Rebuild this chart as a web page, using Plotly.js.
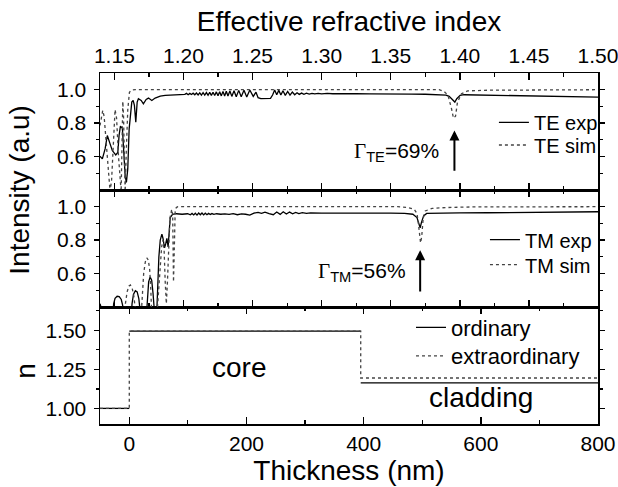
<!DOCTYPE html>
<html>
<head>
<meta charset="utf-8">
<script src="https://cdn.plot.ly/plotly-3.0.1.min.js"></script>
<style>html,body{margin:0;padding:0;background:#fff;}#chart{width:618px;height:487px;}</style>
</head>
<body>
<div id="chart"></div>
<script>
// ---- TE panel (x: effective refractive index) ----
const teExpX = [1.1396,1.1413,1.1433,1.1449,1.1469,1.1485,1.1510,1.1525,1.1534,1.1544,1.1558,1.1568,1.1578,1.1587,1.1597,1.1607,1.1616,1.1626,1.1636,1.1645,1.1655,1.1665,1.1674,1.1694,1.1710,1.1730,1.1747,1.1771,1.1795,1.1832,1.1868,1.1940,1.1977,
1.2010,1.2022,1.2034,1.2046,1.2058,1.2070,1.2082,1.2094,1.2106,1.2118,1.2130,1.2142,1.2154,1.2166,1.2178,1.2190,1.2202,1.2214,1.2226,1.2238,1.2250,1.2262,1.2274,1.2286,1.2298,1.2310,1.2322,1.2336,1.2350,1.2366,1.2382,1.2400,1.2418,1.2438,1.2458,1.2480,1.2505,1.2525,1.2540,1.2560,1.2600,1.2630,1.2645,1.2660,1.2675,1.2690,1.2705,1.2720,1.2737,1.2754,1.2771,1.2788,1.2805,1.2822,1.2838,1.2855,1.2872,1.2890,1.2910,1.2930,1.2950,1.2975,1.3000,1.3040,1.3080,1.3150,1.3250,1.3350,1.3450,1.3550,1.3650,1.3750,1.3850,1.3900,1.3923,1.3947,1.3964,1.3978,1.4002,1.4031,1.4150,1.4273,1.4400,1.4514,1.4630,1.4756,1.4880,1.5000];
const teExpY = [0.602,0.586,0.646,0.726,0.676,0.636,0.610,0.625,0.726,0.782,0.770,0.646,0.486,0.446,0.526,0.766,0.866,0.926,0.936,0.906,0.806,0.926,0.946,0.936,0.916,0.942,0.950,0.936,0.950,0.962,0.966,0.970,0.974,
0.972,0.978,0.970,0.978,0.971,0.979,0.970,0.980,0.969,0.981,0.968,0.982,0.968,0.983,0.967,0.984,0.966,0.985,0.965,0.987,0.964,0.988,0.963,0.990,0.962,0.991,0.962,0.992,0.960,0.994,0.958,0.996,0.958,0.997,0.957,0.998,0.960,0.985,0.952,0.947,0.946,0.948,0.968,0.998,0.970,0.996,0.968,0.994,0.966,0.990,0.968,0.986,0.970,0.982,0.972,0.980,0.973,0.979,0.974,0.978,0.975,0.978,0.975,0.978,0.976,0.977,0.976,0.975,0.976,0.975,0.974,0.973,0.972,0.968,0.960,0.940,0.926,0.946,0.966,0.970,0.968,0.966,0.965,0.964,0.962,0.960,0.958,0.956];
const teSimX = [1.1396,1.1408,1.1416,1.1426,1.1440,1.1455,1.1469,1.1480,1.1492,1.1505,1.1516,1.1530,1.1549,1.1553,1.1557,1.1561,1.1566,1.1572,1.1578,1.1587,1.1597,1.1609,1.1625,1.1650,1.3850,1.3886,1.3915,1.3940,1.3954,1.3969,1.3983,1.4012,1.4056,1.4200,1.5000];
const teSimY = [0.786,0.860,0.876,0.840,0.700,0.500,0.390,0.460,0.700,0.881,0.830,0.600,0.390,0.600,0.850,0.930,0.850,0.600,0.390,0.650,0.880,0.985,0.998,1.000,1.000,0.990,0.966,0.886,0.830,0.842,0.926,0.976,0.993,0.997,1.000];

// ---- TM panel ----
const tmExpX = [1.1396,1.1405,1.1410,1.1488,1.1495,1.1505,1.1520,1.1535,1.1550,1.1560,1.1566,1.1622,1.1628,1.1638,1.1652,1.1665,1.1677,1.1686,1.1690,1.1732,1.1738,1.1748,1.1759,1.1770,1.1780,1.1788,1.1792,1.1806,1.1812,1.1822,1.1832,1.1844,1.1852,1.1863,1.1872,1.1880,1.1889,1.1897,1.1904,1.1921,1.1950,1.1990,
1.2030,1.2050,1.2062,1.2074,1.2086,1.2098,1.2110,1.2122,1.2134,1.2146,1.2158,1.2170,1.2182,1.2194,1.2206,1.2220,1.2240,1.2270,1.2300,1.2330,1.2360,1.2390,1.2420,1.2450,1.2480,1.2510,1.2540,1.2565,1.2590,1.2620,1.2650,1.2675,1.2700,1.2722,1.2745,1.2768,1.2790,1.2812,1.2835,1.2860,1.2890,1.2920,1.2960,1.3000,1.3100,1.3200,1.3300,1.3400,1.3500,1.3600,1.3660,1.3690,1.3705,1.3713,1.3722,1.3738,1.3760,1.3850,1.4000,1.4200,1.4400,1.4600,1.4800,1.5000];
const tmExpY = [0.420,0.395,0.350,0.350,0.420,0.452,0.464,0.462,0.445,0.410,0.350,0.350,0.420,0.475,0.498,0.490,0.450,0.400,0.350,0.350,0.450,0.550,0.580,0.560,0.480,0.400,0.350,0.350,0.500,0.700,0.800,0.836,0.810,0.754,0.780,0.810,0.760,0.850,0.934,0.954,0.958,0.955,
0.958,0.952,0.960,0.951,0.961,0.950,0.962,0.952,0.962,0.951,0.961,0.952,0.960,0.953,0.959,0.954,0.958,0.955,0.957,0.954,0.958,0.952,0.957,0.955,0.950,0.962,0.966,0.960,0.967,0.958,0.952,0.968,0.954,0.970,0.956,0.968,0.958,0.966,0.959,0.964,0.960,0.963,0.961,0.962,0.962,0.963,0.962,0.961,0.962,0.960,0.955,0.935,0.900,0.874,0.905,0.945,0.960,0.962,0.963,0.964,0.965,0.966,0.968,0.970];
const tmSimX = [1.1396,1.1572,1.1580,1.1592,1.1605,1.1616,1.1628,1.1640,1.1650,1.1655,1.1694,1.1700,1.1712,1.1724,1.1735,1.1746,1.1756,1.1764,1.1770,1.1808,1.1820,1.1832,1.1842,1.1852,1.1860,1.1868,1.1876,1.1884,1.1892,1.1902,1.1915,1.1922,1.1928,1.1934,1.1940,1.1948,1.1960,1.3550,1.3620,1.3670,1.3690,1.3700,1.3710,1.3716,1.3724,1.3735,1.3750,1.3800,1.3900,1.4100,1.5000];
const tmSimY = [0.350,0.350,0.420,0.490,0.525,0.532,0.515,0.470,0.400,0.350,0.350,0.450,0.600,0.670,0.694,0.680,0.620,0.500,0.350,0.350,0.500,0.650,0.760,0.800,0.740,0.550,0.420,0.550,0.780,0.930,0.985,0.950,0.550,0.800,0.970,0.995,1.000,1.000,0.995,0.985,0.960,0.900,0.800,0.784,0.820,0.930,0.975,0.990,0.995,0.999,1.000];

// ---- refractive index profile (x: thickness, nm) ----
const ordX = [-50,0,null,0,395,null,395,800];
const ordY = [1.00,1.00,null,1.495,1.495,null,1.163,1.163];
const extX = [-50,0,0,395,395,800];
const extY = [1.00,1.00,1.495,1.495,1.195,1.195];

// ---- tick labels ----
const effTicks = [1.15,1.20,1.25,1.30,1.35,1.40,1.45,1.50];
const intTicks = [0.6,0.8,1.0];
const intTickText = ['0.6','0.8','1.0'];
const nTicks = [1.00,1.25,1.50];
const nTickText = ['1.00','1.25','1.50'];
const thickTicks = [0,200,400,600,800];

const FONT = 'Liberation Sans, Arial, sans-serif';
const solid = {color:'#000', width:1.3};
const dotted = {color:'#444', width:1.3, dash:'dot'};

const traces = [
  {x:teExpX, y:teExpY, xaxis:'x2', yaxis:'y', mode:'lines', name:'TE exp', line:solid, legend:'legend'},
  {x:teSimX, y:teSimY, xaxis:'x2', yaxis:'y', mode:'lines', name:'TE sim', line:dotted, legend:'legend2'},
  {x:tmExpX, y:tmExpY, xaxis:'x3', yaxis:'y2', mode:'lines', name:'TM exp', line:solid, legend:'legend3'},
  {x:tmSimX, y:tmSimY, xaxis:'x3', yaxis:'y2', mode:'lines', name:'TM sim', line:dotted, legend:'legend4'},
  {x:ordX, y:ordY, xaxis:'x', yaxis:'y3', mode:'lines', name:'ordinary', line:solid, legend:'legend5', connectgaps:false},
  {x:extX, y:extY, xaxis:'x', yaxis:'y3', mode:'lines', name:'extraordinary', line:dotted, legend:'legend6'}
];

const axBase = {showline:true, linecolor:'#000', linewidth:1.5, showgrid:false, zeroline:false,
  tickcolor:'#000', tickwidth:1.5, mirror:'ticks', ticklabeloverflow:'allow', tickfont:{family:FONT, size:21, color:'#000'}};

const effAxis = Object.assign({}, axBase, {range:[1.1396,1.5], tickvals:effTicks, tickformat:'.2f',
  ticks:'inside', ticklen:7, minor:{tickvals:[1.175,1.225,1.275,1.325,1.375,1.425,1.475], ticks:'inside', ticklen:4, tickwidth:1.2, tickcolor:'#000'}});

function leg(x, y, size) {
  return {bgcolor:'rgba(0,0,0,0)', borderwidth:0, xanchor:'left', yanchor:'middle', itemwidth:30,
    x:x, y:y, font:{family:FONT, size:size, color:'#000'}};
}

const TITLE = {family:FONT, size:28, color:'#000'};

const layout = {
  width:618, height:487,
  margin:{l:100, r:20, t:73, b:63},
  paper_bgcolor:'#fff', plot_bgcolor:'#fff',
  font:{family:FONT, color:'#000'},
  showlegend:true,
  xaxis: Object.assign({}, axBase, {domain:[0,1], anchor:'y3', range:[-50,800], tickvals:thickTicks,
    ticks:'inside', ticklen:7, ticklabelstandoff:0,
    minor:{tickvals:[100,300,500,700], ticks:'inside', ticklen:4, tickwidth:1.2, tickcolor:'#000'},
    title:{text:'Thickness (nm)', font:TITLE, standoff:2}}),
  xaxis2: Object.assign({}, effAxis, {domain:[0,1], anchor:'y', side:'top', ticklabelstandoff:0,
    title:{text:'Effective refractive index', font:TITLE, standoff:4}}),
  xaxis3: Object.assign({}, effAxis, {domain:[0,1], anchor:'y2', matches:'x2', showticklabels:false}),
  yaxis: Object.assign({}, axBase, {domain:[2/3,1], anchor:'x2', range:[0.4,1.1], tickvals:intTicks, ticktext:intTickText,
    ticks:'outside', ticklen:5, ticklabelstandoff:3,
    minor:{tickvals:[0.5,0.7,0.9], ticks:'outside', ticklen:3, tickwidth:1.2, tickcolor:'#000'}}),
  yaxis2: Object.assign({}, axBase, {domain:[1/3,2/3], anchor:'x3', range:[0.4,1.1], tickvals:intTicks, ticktext:intTickText,
    ticks:'outside', ticklen:5, ticklabelstandoff:3,
    minor:{tickvals:[0.5,0.7,0.9], ticks:'outside', ticklen:3, tickwidth:1.2, tickcolor:'#000'}}),
  yaxis3: Object.assign({}, axBase, {domain:[0,1/3], anchor:'x', range:[0.9,1.65], tickvals:nTicks, ticktext:nTickText,
    ticks:'outside', ticklen:5, ticklabelstandoff:3,
    minor:{tickvals:[1.125,1.375,1.625], ticks:'outside', ticklen:3, tickwidth:1.2, tickcolor:'#000'}}),
  legend:  leg(0.791, 0.8595, 20),
  legend2: leg(0.791, 0.7949, 20),
  legend3: leg(0.773, 0.5251, 20),
  legend4: leg(0.773, 0.4538, 20),
  legend5: leg(0.6245, 0.2746, 22),
  legend6: leg(0.6245, 0.1937, 22),
  annotations:[
    {xref:'paper', yref:'paper', x:-0.161, y:0.667, text:'Intensity (a.u)', textangle:-90, showarrow:false,
     font:TITLE, xanchor:'center', yanchor:'middle'},
    {xref:'paper', yref:'paper', x:-0.149, y:0.151, text:'n', textangle:-90, showarrow:false,
     font:TITLE, xanchor:'center', yanchor:'middle'},
    {xref:'x2', yref:'y', x:1.3961, y:0.756, ax:1.3961, ay:0.506, axref:'x2', ayref:'y', text:'', showarrow:true,
     arrowhead:2, arrowsize:1, arrowwidth:2, arrowcolor:'#000'},
    {xref:'x3', yref:'y2', x:1.3713, y:0.740, ax:1.3713, ay:0.484, axref:'x3', ayref:'y2', text:'', showarrow:true,
     arrowhead:2, arrowsize:1, arrowwidth:2, arrowcolor:'#000'},
    {xref:'x2', yref:'y', x:1.3864, y:0.625, xanchor:'right', yanchor:'middle', showarrow:false,
     text:'<span style="font-family:Liberation Serif">Γ</span><sub>TE</sub>=69%', font:{family:FONT, size:21, color:'#000'}},
    {xref:'x3', yref:'y2', x:1.3624, y:0.612, xanchor:'right', yanchor:'middle', showarrow:false,
     text:'<span style="font-family:Liberation Serif">Γ</span><sub>TM</sub>=56%', font:{family:FONT, size:21, color:'#000'}},
    {xref:'x', yref:'y3', x:187, y:1.26, text:'core', showarrow:false, font:TITLE},
    {xref:'x', yref:'y3', x:600, y:1.067, text:'cladding', showarrow:false, font:TITLE}
  ]
};

Plotly.newPlot('chart', traces, layout, {staticPlot:true, displayModeBar:false});
</script>
</body>
</html>
